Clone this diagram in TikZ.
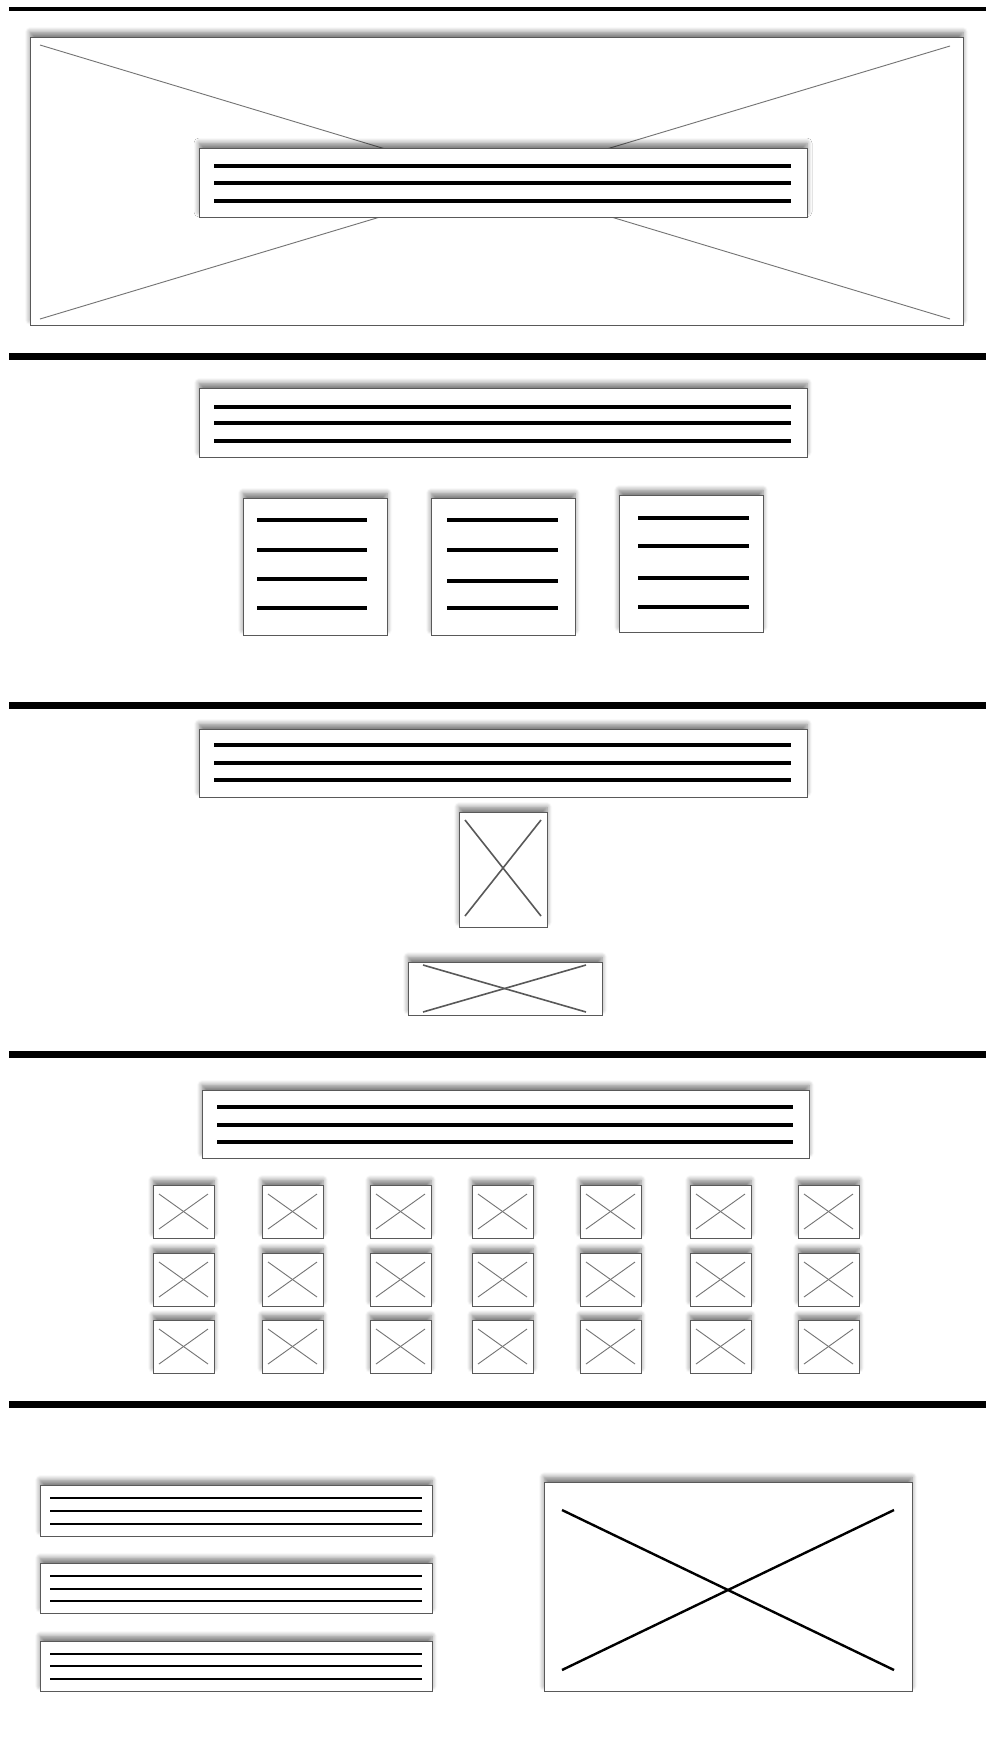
\documentclass[tikz,border=0pt]{standalone}
\usetikzlibrary{shadows.blur}
\tikzset{
  wbox/.style={draw=black!65, line width=0.9pt, fill=white, inner sep=0pt, outer sep=0pt,
    blur shadow={shadow xshift=0pt, shadow yshift=5pt, shadow blur radius=5pt, shadow blur steps=6, shadow opacity=50}},
  sepline/.style={line width=7pt, black},
  topsep/.style={line width=3.3pt, black},
  txtline/.style={line width=3.4pt, black},
  smtxt/.style={line width=2.4pt, black},
  greyx/.style={black!55, line width=0.9pt},
  midx/.style={black!65, line width=1.6pt},
  boldx/.style={black, line width=2.4pt},
}
\newcommand\wframe[5]{\node[wbox, minimum width={#4-#2}, minimum height={#5-#3}] (#1) at ({(#2+#4)/2},{(#3+#5)/2}) {};}
\newcommand\thumb[3]{%
  \wframe{#1}{#2}{#3}{#2+61}{#3+53}
  \draw[greyx] ([shift={(6,9)}]#1.north west) -- ([shift={(-6,-9)}]#1.south east);
  \draw[greyx] ([shift={(6,-9)}]#1.south west) -- ([shift={(-6,9)}]#1.north east);}
\begin{document}
\begin{tikzpicture}[x=1pt,y=-1pt]
\useasboundingbox (0,0) rectangle (986,1746);
% separators
\coordinate (s1a) at (9,9); \coordinate (s1b) at (986,9);
\draw[topsep] (s1a) -- (s1b);
\foreach \yy/\nm in {356/s2,705/s3,1054/s4,1404/s5}{
  \coordinate (\nm a) at (9,\yy); \coordinate (\nm b) at (986,\yy);
  \draw[sepline] (\nm a) -- (\nm b);}
% section 1
\wframe{hero}{30}{37}{963}{325}
\draw[greyx] (40,45) -- (950,319);
\draw[greyx] (950,46) -- (40,319);
\wframe{herotxt}{199}{148}{807}{217}
\foreach \yy in {166,183,201} \draw[txtline] (214,\yy) -- (791,\yy);
% section 2
\wframe{h2}{199}{388}{807}{457}
\foreach \yy in {407,423,441} \draw[txtline] (214,\yy) -- (791,\yy);
\wframe{c1}{243}{498}{387}{635}
\foreach \yy in {520,550,579,608} \draw[txtline] (257,\yy) -- (367,\yy);
\wframe{c2}{431}{498}{575}{635}
\foreach \yy in {520,550,581,608} \draw[txtline] (447,\yy) -- (558,\yy);
\wframe{c3}{619}{495}{763}{632}
\foreach \yy in {518,546,578,607} \draw[txtline] (638,\yy) -- (749,\yy);
% section 3
\wframe{h3}{199}{729}{807}{797}
\foreach \yy in {745,763,780} \draw[txtline] (214,\yy) -- (791,\yy);
\wframe{portrait}{459}{812}{547}{927}
\draw[midx] (465,820) -- (541,916);
\draw[midx] (541,820) -- (465,916);
\wframe{landscape}{408}{962}{602}{1015}
\draw[midx] (423,965) -- (586,1012);
\draw[midx] (586,965) -- (423,1012);
% section 4
\wframe{h4}{202}{1090}{809}{1158}
\foreach \yy in {1107,1125,1142} \draw[txtline] (217,\yy) -- (793,\yy);
\foreach \xx [count=\i] in {153,262,370,472,580,690,798}{
  \foreach \yy [count=\j] in {1185,1253,1320}{
    \thumb{g\i\j}{\xx}{\yy}
  }}
% section 5
\wframe{l1}{40}{1485}{432}{1536}
\foreach \yy in {1498,1511,1524} \draw[smtxt] (50,\yy) -- (422,\yy);
\wframe{l2}{40}{1563}{432}{1613}
\foreach \yy in {1576,1589,1601} \draw[smtxt] (50,\yy) -- (422,\yy);
\wframe{l3}{40}{1641}{432}{1691}
\foreach \yy in {1654,1666,1679} \draw[smtxt] (50,\yy) -- (422,\yy);
\wframe{big}{544}{1482}{912}{1691}
\draw[boldx] (562,1510) -- (894,1670);
\draw[boldx] (894,1510) -- (562,1670);
\end{tikzpicture}
\end{document}
